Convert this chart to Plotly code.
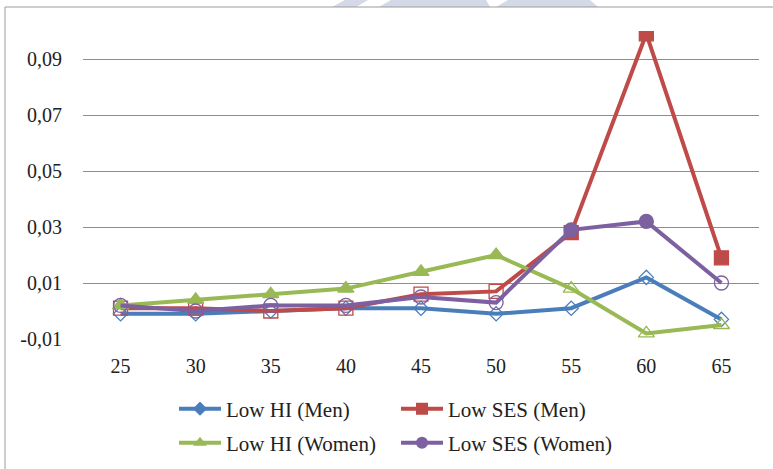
import plotly.graph_objects as go

# Age groups on the category axis
ages = ["25", "30", "35", "40", "45", "50", "55", "60", "65"]

# Series values
low_hi_men = [-0.001, -0.001, 0.000, 0.001, 0.001, -0.001, 0.001, 0.012, -0.003]
low_ses_men = [0.001, 0.001, 0.000, 0.001, 0.006, 0.007, 0.028, 0.099, 0.019]
low_hi_women = [0.002, 0.004, 0.006, 0.008, 0.014, 0.020, 0.008, -0.008, -0.005]
low_ses_women = [0.002, 0.000, 0.002, 0.002, 0.005, 0.003, 0.029, 0.032, 0.010]

# Which points are drawn with a filled marker (others are hollow)
filled_hi_men = [False] * 9
filled_ses_men = [False, False, False, False, False, False, True, True, True]
filled_hi_women = [True, True, True, True, True, True, False, False, False]
filled_ses_women = [False, False, False, False, False, False, True, True, False]

# Y-axis ticks
y_tickvals = [-0.01, 0.01, 0.03, 0.05, 0.07, 0.09]
y_ticktext = ["-0,01", "0,01", "0,03", "0,05", "0,07", "0,09"]

FONT = "Liberation Serif, Times New Roman, serif"

W, H = 773, 469
L, R, T, B = 83, 14, 31, 130
PW, PH = W - L - R, H - T - B


def px(x):
    return (x - L) / PW


def py(y):
    return (H - B - y) / PH


series = [
    ("Low HI (Men)", low_hi_men, filled_hi_men, "#4A7EBB", "diamond", 11, "legend"),
    ("Low SES (Men)", low_ses_men, filled_ses_men, "#BE4B48", "square", 14, "legend"),
    ("Low HI (Women)", low_hi_women, filled_hi_women, "#98B954", "triangle-up", 14, "legend2"),
    ("Low SES (Women)", low_ses_women, filled_ses_women, "#7D60A0", "circle", 14, "legend2"),
]

fig = go.Figure()
for name, vals, filled, color, sym, size, leg in series:
    symbols = [sym if f else sym + "-open" for f in filled]
    fig.add_trace(go.Scatter(
        x=ages, y=vals, mode="lines+markers", name=name, showlegend=False,
        line=dict(color=color, width=4),
        marker=dict(symbol=symbols, size=size, color=color,
                    line=dict(color=color, width=1.3)),
    ))
    # legend entry with a filled marker
    fig.add_trace(go.Scatter(
        x=[None], y=[None], mode="lines+markers", name=name, legend=leg,
        line=dict(color=color, width=4),
        marker=dict(symbol=sym, size=min(size, 12), color=color),
    ))

shapes = [
    # chart frame (left and top edges)
    dict(type="line", xref="paper", yref="paper", x0=px(5), x1=px(5), y0=py(7), y1=py(H),
         line=dict(color="#9c9c9c", width=1)),
    dict(type="line", xref="paper", yref="paper", x0=px(5), x1=px(W), y0=py(7), y1=py(7),
         line=dict(color="#9c9c9c", width=1)),
]

# faint background marks along the top edge
marks = [
    [(332, 7), (345, 0), (368, 0), (356, 7)],
    [(379, 7), (391, 0), (486, 0), (490, 7)],
    [(496, 7), (508, 0), (590, 0), (598, 7)],
]
for poly in marks:
    path = "M " + " L ".join(f"{px(x)},{py(y)}" for x, y in poly) + " Z"
    shapes.append(dict(type="path", xref="paper", yref="paper", path=path,
                       fillcolor="#D3D9E7", line=dict(width=0), layer="below"))

legend_common = dict(orientation="h", xanchor="left", yanchor="middle", itemwidth=42,
                     font=dict(size=21, family=FONT), entrywidth=165,
                     entrywidthmode="pixels", bgcolor="rgba(0,0,0,0)")

fig.update_layout(
    width=W, height=H,
    margin=dict(l=L, r=R, t=T, b=B, autoexpand=False),
    paper_bgcolor="white", plot_bgcolor="white",
    font=dict(family=FONT, size=20, color="#222222"),
    xaxis=dict(type="category", range=[-0.5, 8.5], showgrid=False, zeroline=False,
               showline=False, ticks="outside", ticklen=9, tickcolor="rgba(0,0,0,0)",
               tickfont=dict(size=20, family=FONT), automargin=False),
    yaxis=dict(range=[-0.01, 0.1], tickvals=y_tickvals, ticktext=y_ticktext,
               showgrid=True, gridcolor="#8E8E8E", gridwidth=1.3, zeroline=False,
               showline=False, ticks="outside", ticklen=16, tickcolor="rgba(0,0,0,0)",
               tickfont=dict(size=20, family=FONT), automargin=False),
    legend=dict(x=px(174), y=py(409), **legend_common),
    legend2=dict(x=px(174), y=py(443), **legend_common),
    shapes=shapes,
)

fig.write_html("out.html")
